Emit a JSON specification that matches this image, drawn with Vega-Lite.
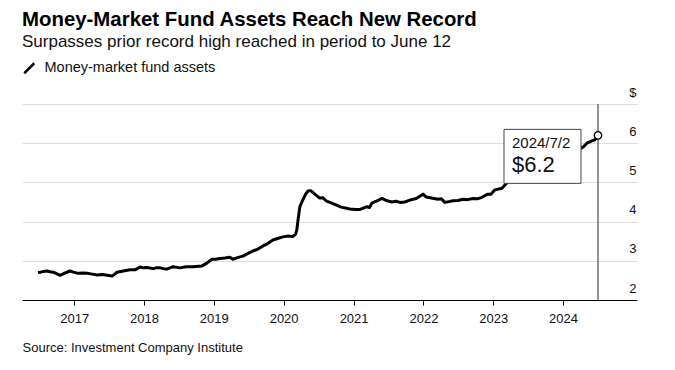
{
  "$schema": "https://vega.github.io/schema/vega-lite/v6.json",
  "width": 615,
  "height": 196,
  "autosize": {"type": "none"},
  "padding": {"left": 22, "top": 104, "right": 38, "bottom": 70},
  "background": "white",
  "config": {"view": {"stroke": null}, "font": "Liberation Sans"},
  "title": {
    "text": "Money-Market Fund Assets Reach New Record",
    "subtitle": "Surpasses prior record high reached in period to June 12",
    "anchor": "start",
    "frame": "group",
    "font": "Liberation Sans",
    "fontSize": 20.4,
    "fontWeight": "bold",
    "color": "#000000",
    "subtitleFont": "Liberation Sans",
    "subtitleFontSize": 17,
    "subtitleColor": "#111111",
    "subtitlePadding": 4,
    "offset": 11
  },
  "datasets": {
    "assets": [
      {"date": "2016-06-26", "value": 2.70, "series": "Money-market fund assets"},
      {"date": "2016-07-10", "value": 2.71, "series": "Money-market fund assets"},
      {"date": "2016-07-24", "value": 2.73, "series": "Money-market fund assets"},
      {"date": "2016-08-12", "value": 2.74, "series": "Money-market fund assets"},
      {"date": "2016-08-28", "value": 2.72, "series": "Money-market fund assets"},
      {"date": "2016-09-13", "value": 2.71, "series": "Money-market fund assets"},
      {"date": "2016-10-01", "value": 2.67, "series": "Money-market fund assets"},
      {"date": "2016-10-19", "value": 2.63, "series": "Money-market fund assets"},
      {"date": "2016-11-15", "value": 2.69, "series": "Money-market fund assets"},
      {"date": "2016-12-10", "value": 2.74, "series": "Money-market fund assets"},
      {"date": "2016-12-28", "value": 2.71, "series": "Money-market fund assets"},
      {"date": "2017-01-22", "value": 2.68, "series": "Money-market fund assets"},
      {"date": "2017-02-15", "value": 2.69, "series": "Money-market fund assets"},
      {"date": "2017-03-10", "value": 2.68, "series": "Money-market fund assets"},
      {"date": "2017-04-05", "value": 2.66, "series": "Money-market fund assets"},
      {"date": "2017-05-01", "value": 2.64, "series": "Money-market fund assets"},
      {"date": "2017-05-28", "value": 2.65, "series": "Money-market fund assets"},
      {"date": "2017-06-22", "value": 2.63, "series": "Money-market fund assets"},
      {"date": "2017-07-18", "value": 2.61, "series": "Money-market fund assets"},
      {"date": "2017-08-01", "value": 2.66, "series": "Money-market fund assets"},
      {"date": "2017-08-13", "value": 2.71, "series": "Money-market fund assets"},
      {"date": "2017-09-15", "value": 2.74, "series": "Money-market fund assets"},
      {"date": "2017-10-20", "value": 2.77, "series": "Money-market fund assets"},
      {"date": "2017-11-15", "value": 2.77, "series": "Money-market fund assets"},
      {"date": "2017-12-11", "value": 2.84, "series": "Money-market fund assets"},
      {"date": "2017-12-28", "value": 2.82, "series": "Money-market fund assets"},
      {"date": "2018-01-17", "value": 2.83, "series": "Money-market fund assets"},
      {"date": "2018-02-18", "value": 2.80, "series": "Money-market fund assets"},
      {"date": "2018-03-05", "value": 2.82, "series": "Money-market fund assets"},
      {"date": "2018-03-26", "value": 2.82, "series": "Money-market fund assets"},
      {"date": "2018-04-14", "value": 2.80, "series": "Money-market fund assets"},
      {"date": "2018-05-01", "value": 2.79, "series": "Money-market fund assets"},
      {"date": "2018-06-02", "value": 2.85, "series": "Money-market fund assets"},
      {"date": "2018-07-08", "value": 2.82, "series": "Money-market fund assets"},
      {"date": "2018-08-10", "value": 2.85, "series": "Money-market fund assets"},
      {"date": "2018-09-14", "value": 2.85, "series": "Money-market fund assets"},
      {"date": "2018-10-31", "value": 2.87, "series": "Money-market fund assets"},
      {"date": "2018-11-26", "value": 2.94, "series": "Money-market fund assets"},
      {"date": "2018-12-22", "value": 3.04, "series": "Money-market fund assets"},
      {"date": "2019-01-10", "value": 3.04, "series": "Money-market fund assets"},
      {"date": "2019-02-02", "value": 3.06, "series": "Money-market fund assets"},
      {"date": "2019-02-28", "value": 3.07, "series": "Money-market fund assets"},
      {"date": "2019-03-26", "value": 3.09, "series": "Money-market fund assets"},
      {"date": "2019-04-11", "value": 3.04, "series": "Money-market fund assets"},
      {"date": "2019-05-05", "value": 3.08, "series": "Money-market fund assets"},
      {"date": "2019-06-02", "value": 3.12, "series": "Money-market fund assets"},
      {"date": "2019-07-24", "value": 3.25, "series": "Money-market fund assets"},
      {"date": "2019-08-20", "value": 3.30, "series": "Money-market fund assets"},
      {"date": "2019-09-15", "value": 3.38, "series": "Money-market fund assets"},
      {"date": "2019-10-10", "value": 3.44, "series": "Money-market fund assets"},
      {"date": "2019-11-06", "value": 3.53, "series": "Money-market fund assets"},
      {"date": "2019-12-01", "value": 3.57, "series": "Money-market fund assets"},
      {"date": "2019-12-28", "value": 3.61, "series": "Money-market fund assets"},
      {"date": "2020-01-20", "value": 3.63, "series": "Money-market fund assets"},
      {"date": "2020-02-18", "value": 3.62, "series": "Money-market fund assets"},
      {"date": "2020-03-04", "value": 3.68, "series": "Money-market fund assets"},
      {"date": "2020-03-10", "value": 3.79, "series": "Money-market fund assets"},
      {"date": "2020-03-18", "value": 4.10, "series": "Money-market fund assets"},
      {"date": "2020-03-26", "value": 4.38, "series": "Money-market fund assets"},
      {"date": "2020-04-10", "value": 4.55, "series": "Money-market fund assets"},
      {"date": "2020-04-25", "value": 4.70, "series": "Money-market fund assets"},
      {"date": "2020-05-07", "value": 4.78, "series": "Money-market fund assets"},
      {"date": "2020-05-22", "value": 4.79, "series": "Money-market fund assets"},
      {"date": "2020-06-12", "value": 4.70, "series": "Money-market fund assets"},
      {"date": "2020-07-08", "value": 4.60, "series": "Money-market fund assets"},
      {"date": "2020-07-25", "value": 4.61, "series": "Money-market fund assets"},
      {"date": "2020-08-10", "value": 4.53, "series": "Money-market fund assets"},
      {"date": "2020-09-25", "value": 4.44, "series": "Money-market fund assets"},
      {"date": "2020-10-28", "value": 4.37, "series": "Money-market fund assets"},
      {"date": "2020-12-13", "value": 4.32, "series": "Money-market fund assets"},
      {"date": "2021-01-10", "value": 4.31, "series": "Money-market fund assets"},
      {"date": "2021-02-04", "value": 4.31, "series": "Money-market fund assets"},
      {"date": "2021-03-12", "value": 4.38, "series": "Money-market fund assets"},
      {"date": "2021-03-25", "value": 4.36, "series": "Money-market fund assets"},
      {"date": "2021-04-08", "value": 4.48, "series": "Money-market fund assets"},
      {"date": "2021-05-04", "value": 4.53, "series": "Money-market fund assets"},
      {"date": "2021-05-30", "value": 4.59, "series": "Money-market fund assets"},
      {"date": "2021-06-25", "value": 4.53, "series": "Money-market fund assets"},
      {"date": "2021-07-21", "value": 4.50, "series": "Money-market fund assets"},
      {"date": "2021-08-10", "value": 4.52, "series": "Money-market fund assets"},
      {"date": "2021-09-01", "value": 4.49, "series": "Money-market fund assets"},
      {"date": "2021-09-25", "value": 4.50, "series": "Money-market fund assets"},
      {"date": "2021-10-23", "value": 4.55, "series": "Money-market fund assets"},
      {"date": "2021-11-25", "value": 4.59, "series": "Money-market fund assets"},
      {"date": "2021-12-30", "value": 4.70, "series": "Money-market fund assets"},
      {"date": "2022-01-15", "value": 4.63, "series": "Money-market fund assets"},
      {"date": "2022-02-05", "value": 4.61, "series": "Money-market fund assets"},
      {"date": "2022-03-18", "value": 4.57, "series": "Money-market fund assets"},
      {"date": "2022-04-05", "value": 4.58, "series": "Money-market fund assets"},
      {"date": "2022-04-23", "value": 4.49, "series": "Money-market fund assets"},
      {"date": "2022-05-15", "value": 4.51, "series": "Money-market fund assets"},
      {"date": "2022-06-04", "value": 4.53, "series": "Money-market fund assets"},
      {"date": "2022-07-01", "value": 4.54, "series": "Money-market fund assets"},
      {"date": "2022-07-27", "value": 4.57, "series": "Money-market fund assets"},
      {"date": "2022-08-20", "value": 4.56, "series": "Money-market fund assets"},
      {"date": "2022-09-17", "value": 4.59, "series": "Money-market fund assets"},
      {"date": "2022-10-10", "value": 4.58, "series": "Money-market fund assets"},
      {"date": "2022-11-03", "value": 4.62, "series": "Money-market fund assets"},
      {"date": "2022-12-04", "value": 4.70, "series": "Money-market fund assets"},
      {"date": "2022-12-20", "value": 4.70, "series": "Money-market fund assets"},
      {"date": "2023-01-10", "value": 4.81, "series": "Money-market fund assets"},
      {"date": "2023-02-16", "value": 4.85, "series": "Money-market fund assets"},
      {"date": "2023-03-08", "value": 4.96, "series": "Money-market fund assets"},
      {"date": "2023-05-01", "value": 5.20, "series": "Money-market fund assets"},
      {"date": "2023-07-01", "value": 5.40, "series": "Money-market fund assets"},
      {"date": "2023-09-01", "value": 5.55, "series": "Money-market fund assets"},
      {"date": "2023-11-01", "value": 5.70, "series": "Money-market fund assets"},
      {"date": "2024-01-01", "value": 5.90, "series": "Money-market fund assets"},
      {"date": "2024-02-20", "value": 6.00, "series": "Money-market fund assets"},
      {"date": "2024-04-09", "value": 5.88, "series": "Money-market fund assets"},
      {"date": "2024-04-20", "value": 5.92, "series": "Money-market fund assets"},
      {"date": "2024-05-05", "value": 6.00, "series": "Money-market fund assets"},
      {"date": "2024-05-31", "value": 6.06, "series": "Money-market fund assets"},
      {"date": "2024-06-15", "value": 6.08, "series": "Money-market fund assets"},
      {"date": "2024-07-02", "value": 6.20, "series": "Money-market fund assets"}
    ],
    "marker": [
      {"date": "2024-07-02", "value": 6.2, "date_label": "2024/7/2", "value_label": "$6.2"}
    ]
  },
  "layer": [
    {
      "data": {"name": "marker"},
      "mark": {"type": "rule", "color": "#707070", "strokeWidth": 1.5},
      "encoding": {
        "x": {
          "field": "date", "type": "temporal",
          "scale": {"domain": ["2016-04-03", "2025-01-22"]},
          "axis": {
            "values": [
              {"year": 2017, "month": 1, "date": 1}, {"year": 2018, "month": 1, "date": 1},
              {"year": 2019, "month": 1, "date": 1}, {"year": 2020, "month": 1, "date": 1},
              {"year": 2021, "month": 1, "date": 1}, {"year": 2022, "month": 1, "date": 1},
              {"year": 2023, "month": 1, "date": 1}, {"year": 2024, "month": 1, "date": 1}
            ],
            "format": "%Y", "grid": false, "domainColor": "#000000", "domainWidth": 1.2,
            "tickColor": "#000000", "tickWidth": 1, "tickSize": 5,
            "labelFont": "Liberation Sans", "labelFontSize": 13, "labelColor": "#111111", "labelPadding": 7,
            "title": "Source: Investment Company Institute", "titleAnchor": "start", "titleAlign": "left",
            "titleFont": "Liberation Sans", "titleFontSize": 13, "titleFontWeight": "normal",
            "titleColor": "#111111", "titlePadding": 16
          }
        }
      }
    },
    {
      "data": {"name": "assets"},
      "mark": {"type": "line", "strokeWidth": 3, "strokeJoin": "round"},
      "encoding": {
        "x": {
          "field": "date", "type": "temporal",
          "scale": {"domain": ["2016-04-03", "2025-01-22"]},
          "axis": {
            "values": [
              {"year": 2017, "month": 1, "date": 1}, {"year": 2018, "month": 1, "date": 1},
              {"year": 2019, "month": 1, "date": 1}, {"year": 2020, "month": 1, "date": 1},
              {"year": 2021, "month": 1, "date": 1}, {"year": 2022, "month": 1, "date": 1},
              {"year": 2023, "month": 1, "date": 1}, {"year": 2024, "month": 1, "date": 1}
            ],
            "format": "%Y", "grid": false, "domainColor": "#000000", "domainWidth": 1.2,
            "tickColor": "#000000", "tickWidth": 1, "tickSize": 5,
            "labelFont": "Liberation Sans", "labelFontSize": 13, "labelColor": "#111111", "labelPadding": 7,
            "title": "Source: Investment Company Institute", "titleAnchor": "start", "titleAlign": "left",
            "titleFont": "Liberation Sans", "titleFontSize": 13, "titleFontWeight": "normal",
            "titleColor": "#111111", "titlePadding": 16
          }
        },
        "y": {
          "field": "value", "type": "quantitative",
          "scale": {"domain": [2, 7]},
          "axis": {
            "orient": "right", "values": [2, 3, 4, 5, 6, 7], "domain": false, "ticks": false, "tickSize": 0,
            "grid": true, "gridColor": "#dddddd", "gridWidth": 1,
            "labelAlign": "right", "labelBaseline": "alphabetic", "labelOverlap": false,
            "labelPadding": -1, "labelOffset": -8, "labelFont": "Liberation Sans", "labelFontSize": 13,
            "labelColor": "#111111", "labelExpr": "datum.value == 7 ? '$' : datum.label", "title": null
          }
        },
        "color": {
          "field": "series",
          "type": "nominal",
          "scale": {"range": ["#000000"]},
          "legend": {
            "orient": "none",
            "legendX": 0,
            "legendY": -43,
            "title": null,
            "symbolType": "M-1,1L1,-1",
            "symbolStrokeWidth": 2.5,
            "symbolSize": 100,
            "symbolStrokeColor": "#000000",
            "labelFont": "Liberation Sans",
            "labelFontSize": 14.5,
            "labelColor": "#111111",
            "labelLimit": 0,
            "labelOffset": 8,
            "padding": 0
          }
        }
      }
    },
    {
      "data": {"name": "marker"},
      "mark": {"type": "rect", "fill": "white", "stroke": "#444444", "strokeWidth": 1, "xOffset": -94, "x2Offset": -17, "yOffset": -6, "y2Offset": 48},
      "encoding": {
        "x": {
          "field": "date", "type": "temporal",
          "scale": {"domain": ["2016-04-03", "2025-01-22"]},
          "axis": {
            "values": [
              {"year": 2017, "month": 1, "date": 1}, {"year": 2018, "month": 1, "date": 1},
              {"year": 2019, "month": 1, "date": 1}, {"year": 2020, "month": 1, "date": 1},
              {"year": 2021, "month": 1, "date": 1}, {"year": 2022, "month": 1, "date": 1},
              {"year": 2023, "month": 1, "date": 1}, {"year": 2024, "month": 1, "date": 1}
            ],
            "format": "%Y", "grid": false, "domainColor": "#000000", "domainWidth": 1.2,
            "tickColor": "#000000", "tickWidth": 1, "tickSize": 5,
            "labelFont": "Liberation Sans", "labelFontSize": 13, "labelColor": "#111111", "labelPadding": 7,
            "title": "Source: Investment Company Institute", "titleAnchor": "start", "titleAlign": "left",
            "titleFont": "Liberation Sans", "titleFontSize": 13, "titleFontWeight": "normal",
            "titleColor": "#111111", "titlePadding": 16
          }
        },
        "x2": {"field": "date"},
        "y": {
          "field": "value", "type": "quantitative",
          "scale": {"domain": [2, 7]},
          "axis": {
            "orient": "right", "values": [2, 3, 4, 5, 6, 7], "domain": false, "ticks": false, "tickSize": 0,
            "grid": true, "gridColor": "#dddddd", "gridWidth": 1,
            "labelAlign": "right", "labelBaseline": "alphabetic", "labelOverlap": false,
            "labelPadding": -1, "labelOffset": -8, "labelFont": "Liberation Sans", "labelFontSize": 13,
            "labelColor": "#111111", "labelExpr": "datum.value == 7 ? '$' : datum.label", "title": null
          }
        },
        "y2": {"field": "value"}
      }
    },
    {
      "data": {"name": "marker"},
      "mark": {"type": "text", "align": "left", "baseline": "middle", "dx": -86, "dy": 8, "fontSize": 15, "font": "Liberation Sans", "color": "#111111"},
      "encoding": {
        "x": {
          "field": "date", "type": "temporal",
          "scale": {"domain": ["2016-04-03", "2025-01-22"]},
          "axis": {
            "values": [
              {"year": 2017, "month": 1, "date": 1}, {"year": 2018, "month": 1, "date": 1},
              {"year": 2019, "month": 1, "date": 1}, {"year": 2020, "month": 1, "date": 1},
              {"year": 2021, "month": 1, "date": 1}, {"year": 2022, "month": 1, "date": 1},
              {"year": 2023, "month": 1, "date": 1}, {"year": 2024, "month": 1, "date": 1}
            ],
            "format": "%Y", "grid": false, "domainColor": "#000000", "domainWidth": 1.2,
            "tickColor": "#000000", "tickWidth": 1, "tickSize": 5,
            "labelFont": "Liberation Sans", "labelFontSize": 13, "labelColor": "#111111", "labelPadding": 7,
            "title": "Source: Investment Company Institute", "titleAnchor": "start", "titleAlign": "left",
            "titleFont": "Liberation Sans", "titleFontSize": 13, "titleFontWeight": "normal",
            "titleColor": "#111111", "titlePadding": 16
          }
        },
        "y": {
          "field": "value", "type": "quantitative",
          "scale": {"domain": [2, 7]},
          "axis": {
            "orient": "right", "values": [2, 3, 4, 5, 6, 7], "domain": false, "ticks": false, "tickSize": 0,
            "grid": true, "gridColor": "#dddddd", "gridWidth": 1,
            "labelAlign": "right", "labelBaseline": "alphabetic", "labelOverlap": false,
            "labelPadding": -1, "labelOffset": -8, "labelFont": "Liberation Sans", "labelFontSize": 13,
            "labelColor": "#111111", "labelExpr": "datum.value == 7 ? '$' : datum.label", "title": null
          }
        },
        "text": {"field": "date_label"}
      }
    },
    {
      "data": {"name": "marker"},
      "mark": {"type": "text", "align": "left", "baseline": "middle", "dx": -86, "dy": 30, "fontSize": 22, "font": "Liberation Sans", "color": "#111111"},
      "encoding": {
        "x": {
          "field": "date", "type": "temporal",
          "scale": {"domain": ["2016-04-03", "2025-01-22"]},
          "axis": {
            "values": [
              {"year": 2017, "month": 1, "date": 1}, {"year": 2018, "month": 1, "date": 1},
              {"year": 2019, "month": 1, "date": 1}, {"year": 2020, "month": 1, "date": 1},
              {"year": 2021, "month": 1, "date": 1}, {"year": 2022, "month": 1, "date": 1},
              {"year": 2023, "month": 1, "date": 1}, {"year": 2024, "month": 1, "date": 1}
            ],
            "format": "%Y", "grid": false, "domainColor": "#000000", "domainWidth": 1.2,
            "tickColor": "#000000", "tickWidth": 1, "tickSize": 5,
            "labelFont": "Liberation Sans", "labelFontSize": 13, "labelColor": "#111111", "labelPadding": 7,
            "title": "Source: Investment Company Institute", "titleAnchor": "start", "titleAlign": "left",
            "titleFont": "Liberation Sans", "titleFontSize": 13, "titleFontWeight": "normal",
            "titleColor": "#111111", "titlePadding": 16
          }
        },
        "y": {
          "field": "value", "type": "quantitative",
          "scale": {"domain": [2, 7]},
          "axis": {
            "orient": "right", "values": [2, 3, 4, 5, 6, 7], "domain": false, "ticks": false, "tickSize": 0,
            "grid": true, "gridColor": "#dddddd", "gridWidth": 1,
            "labelAlign": "right", "labelBaseline": "alphabetic", "labelOverlap": false,
            "labelPadding": -1, "labelOffset": -8, "labelFont": "Liberation Sans", "labelFontSize": 13,
            "labelColor": "#111111", "labelExpr": "datum.value == 7 ? '$' : datum.label", "title": null
          }
        },
        "text": {"field": "value_label"}
      }
    },
    {
      "data": {"name": "marker"},
      "mark": {"type": "point", "filled": true, "fill": "white", "stroke": "#000000", "strokeWidth": 1.3, "size": 55, "opacity": 1},
      "encoding": {
        "x": {
          "field": "date", "type": "temporal",
          "scale": {"domain": ["2016-04-03", "2025-01-22"]},
          "axis": {
            "values": [
              {"year": 2017, "month": 1, "date": 1}, {"year": 2018, "month": 1, "date": 1},
              {"year": 2019, "month": 1, "date": 1}, {"year": 2020, "month": 1, "date": 1},
              {"year": 2021, "month": 1, "date": 1}, {"year": 2022, "month": 1, "date": 1},
              {"year": 2023, "month": 1, "date": 1}, {"year": 2024, "month": 1, "date": 1}
            ],
            "format": "%Y", "grid": false, "domainColor": "#000000", "domainWidth": 1.2,
            "tickColor": "#000000", "tickWidth": 1, "tickSize": 5,
            "labelFont": "Liberation Sans", "labelFontSize": 13, "labelColor": "#111111", "labelPadding": 7,
            "title": "Source: Investment Company Institute", "titleAnchor": "start", "titleAlign": "left",
            "titleFont": "Liberation Sans", "titleFontSize": 13, "titleFontWeight": "normal",
            "titleColor": "#111111", "titlePadding": 16
          }
        },
        "y": {
          "field": "value", "type": "quantitative",
          "scale": {"domain": [2, 7]},
          "axis": {
            "orient": "right", "values": [2, 3, 4, 5, 6, 7], "domain": false, "ticks": false, "tickSize": 0,
            "grid": true, "gridColor": "#dddddd", "gridWidth": 1,
            "labelAlign": "right", "labelBaseline": "alphabetic", "labelOverlap": false,
            "labelPadding": -1, "labelOffset": -8, "labelFont": "Liberation Sans", "labelFontSize": 13,
            "labelColor": "#111111", "labelExpr": "datum.value == 7 ? '$' : datum.label", "title": null
          }
        }
      }
    }
  ]
}
